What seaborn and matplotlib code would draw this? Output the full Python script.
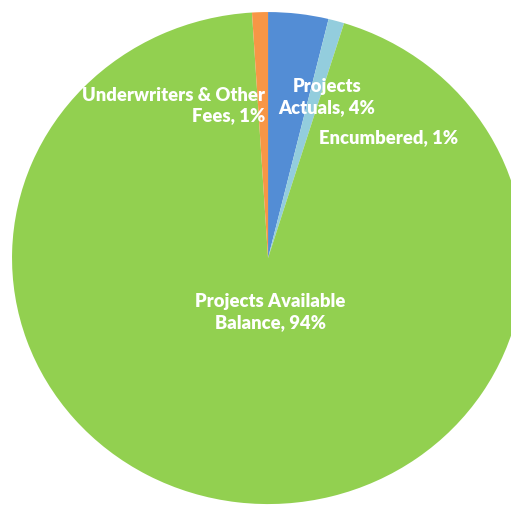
import pandas as pd
import matplotlib
matplotlib.use("Agg")
import matplotlib.pyplot as plt
import seaborn as sns

# Budget split (Excel style: starts at 12 o'clock, clockwise)
categories = ["Projects Actuals", "Encumbered", "Projects Available Balance", "Underwriters & Other Fees"]
shares = [3.8, 1.0, 94.2, 1.0]
label_texts = ["Projects\nActuals, 4%", "Encumbered, 1%", "Projects Available\nBalance, 94%",
               "Underwriters & Other\nFees, 1%"]
colors = ["#538DD5", "#93CDDD", "#92D050", "#F79646"]

sns.set_theme(style="white")
plt.rcParams['font.family'] = ['Lato', 'DejaVu Sans']

df = pd.DataFrame({"category": categories, "share": shares, "label": label_texts, "color": colors})

fig = plt.figure(figsize=(5.11, 5.08), dpi=100)
ax = fig.add_axes([0, 0, 1, 1])
ax.pie(df["share"], colors=df["color"], startangle=90, counterclock=False,
       wedgeprops={"linewidth": 0})
ax.set_aspect('auto')
# pie slightly wider than tall and cut off at right/bottom, as in the source
ax.set_xlim(-1.047, 0.949)
ax.set_ylim(-1.016, 1.049)
ax.axis('off')

text_kw = dict(color="white", fontsize=13.2, fontweight="heavy", linespacing=1.25, va="center")
ax.text(-0.01, 0.62, df.loc[3, "label"], ha="right", multialignment="right", **text_kw)
ax.text(0.23, 0.655, df.loc[0, "label"], ha="center", **text_kw)
ax.text(0.20, 0.49, df.loc[1, "label"], ha="left", **text_kw)
ax.text(0.008, -0.22, df.loc[2, "label"], ha="center", **text_kw)

fig.savefig("out.png", dpi=100)
plt.close(fig)
